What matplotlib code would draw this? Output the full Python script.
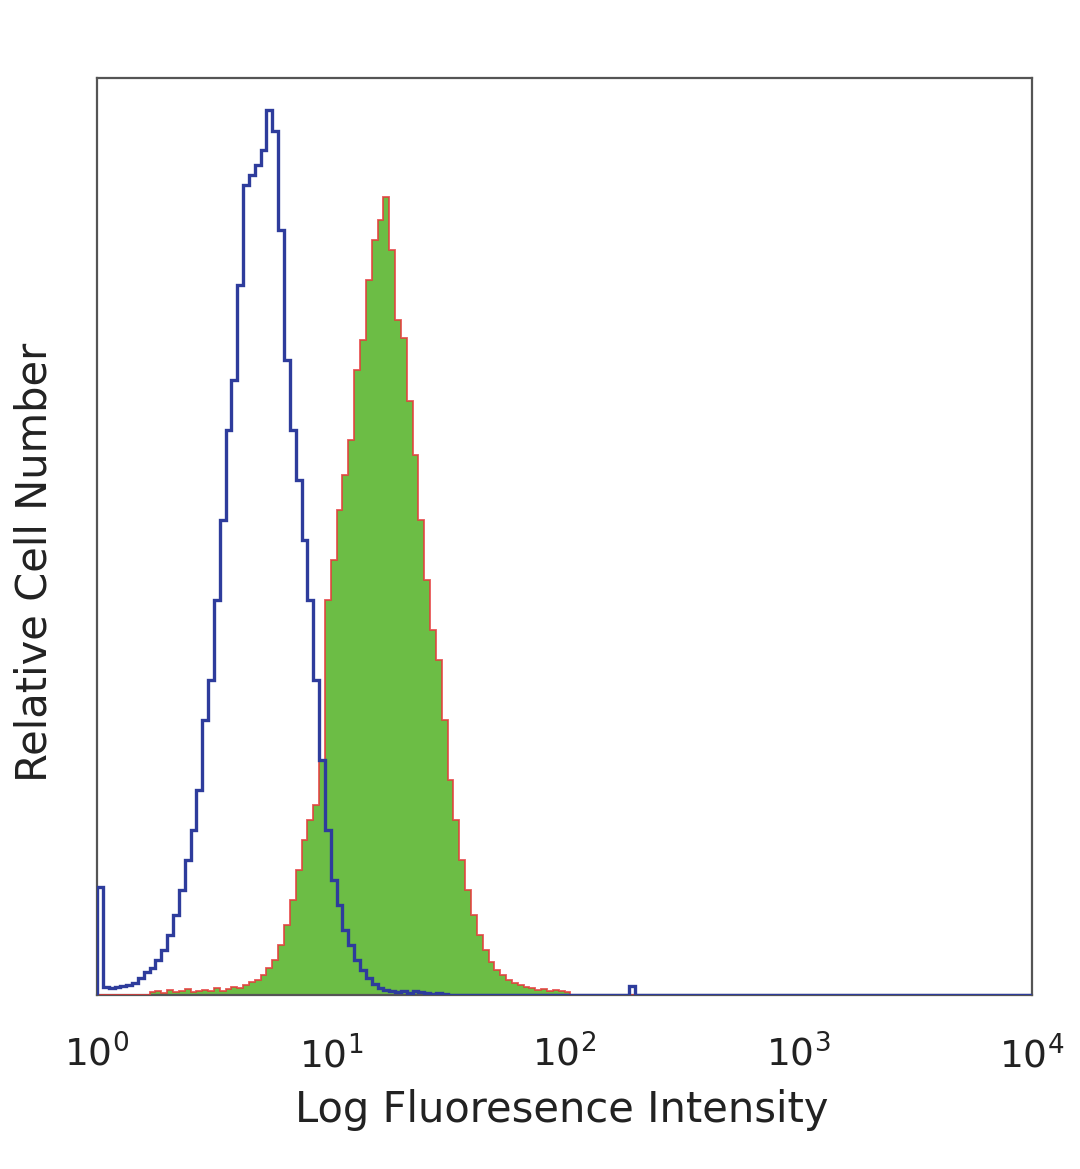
import numpy as np
import matplotlib
matplotlib.use("Agg")
import matplotlib.pyplot as plt

# ─── Data (histogram counts per channel, 0.025 decade bins from 10^0) ────────

BIN_WIDTH = 0.025          # decades per channel
N_BINS = 160               # 4 decades

isotype_counts = [
    12.0, 0.9, 0.8, 0.9, 1.0, 1.1, 1.3, 1.9, 2.6, 3.0,
    3.9, 5.0, 6.7, 8.9, 11.7, 15.0, 18.3, 22.8, 30.6, 35.0,
    43.9, 52.8, 62.8, 68.3, 78.9, 90.0, 91.1, 92.2, 93.9, 98.3,
    96.0, 85.0, 70.6, 62.8, 57.2, 50.6, 43.9, 35.0, 26.1, 18.3,
    12.8, 10.0, 7.2, 5.6, 3.9, 2.8, 1.9, 1.2, 0.8, 0.6,
    0.4, 0.3, 0.5, 0.2, 0.4, 0.3, 0.2, 0.1, 0.2, 0.1,
    0.0, 0.0, 0.0, 0.0, 0.0, 0.0, 0.0, 0.0, 0.0, 0.0,
    0.0, 0.0, 0.0, 0.0, 0.0, 0.0, 0.0, 0.0, 0.0, 0.0,
    0.0, 0.0, 0.0, 0.0, 0.0, 0.0, 0.0, 0.0, 0.0, 0.0,
    0.0, 1.0, 0.0, 0.0, 0.0, 0.0,
]

stained_counts = [
    0.0, 0.0, 0.0, 0.0, 0.0, 0.0, 0.0, 0.0, 0.0, 0.3,
    0.5, 0.2, 0.6, 0.3, 0.4, 0.7, 0.3, 0.5, 0.6, 0.4,
    0.8, 0.5, 0.7, 0.9, 0.8, 1.1, 1.4, 1.7, 2.2, 3.0,
    3.9, 5.6, 7.8, 10.6, 13.9, 17.2, 19.4, 21.1, 26.1, 43.9,
    48.3, 53.9, 57.8, 61.7, 69.4, 72.8, 79.4, 83.9, 86.1, 88.7,
    82.8, 75.0, 73.0, 66.0, 60.0, 52.8, 46.1, 40.6, 37.2, 30.6,
    23.9, 19.4, 15.0, 11.7, 8.9, 6.7, 5.0, 3.7, 2.8, 2.2,
    1.7, 1.3, 1.1, 0.9, 0.8, 0.6, 0.7, 0.5, 0.6, 0.4,
    0.3,
]

tick_exponents = [0, 1, 2, 3, 4]

X_LABEL = "Log Fluoresence Intensity"
Y_LABEL = "Relative Cell Number"

BLUE = "#2e3c9c"
GREEN = "#6cbd45"
RED = "#e53a3a"
TEXT = "#222222"


def pad(counts):
    out = np.zeros(N_BINS)
    out[:len(counts)] = counts
    return out


def main():
    edges = 10 ** (np.arange(N_BINS + 1) * BIN_WIDTH)
    iso = pad(isotype_counts)
    stained = pad(stained_counts)

    fig = plt.figure(figsize=(10.8, 11.69), dpi=100)
    ax = fig.add_axes([97 / 1080, 1 - 995 / 1169, 935 / 1080, 917 / 1169])

    # ── Histograms ────────────────────────────────────────────────────────
    ax.stairs(stained, edges, fill=True, color=GREEN, zorder=2)
    ax.stairs(stained, edges, color=RED, linewidth=1.3, alpha=0.85, zorder=3)
    ax.stairs(iso, edges, color=BLUE, linewidth=2.4, zorder=4)

    ax.set_xscale("log")
    ax.set_xlim(1, 1e4)
    ax.set_ylim(0, 101.9)

    ax.set_xticks([10 ** e for e in tick_exponents])
    ax.set_xticklabels([f"$10^{{{e}}}$" for e in tick_exponents],
                       fontsize=27, color=TEXT)
    ax.xaxis.set_minor_locator(matplotlib.ticker.NullLocator())
    ax.set_yticks([])
    ax.tick_params(axis="x", length=0, pad=29)

    for side in ax.spines.values():
        side.set_color("#555555")
        side.set_linewidth(1.6)

    fig.text(562 / 1080, 1 - 1110 / 1169, X_LABEL, ha="center", va="center",
             fontsize=30, color=TEXT)
    fig.text(35 / 1080, 1 - 562 / 1169, Y_LABEL, ha="center", va="center",
             rotation=90, fontsize=30, color=TEXT)

    fig.savefig("out.png", dpi=100)


if __name__ == "__main__":
    main()
